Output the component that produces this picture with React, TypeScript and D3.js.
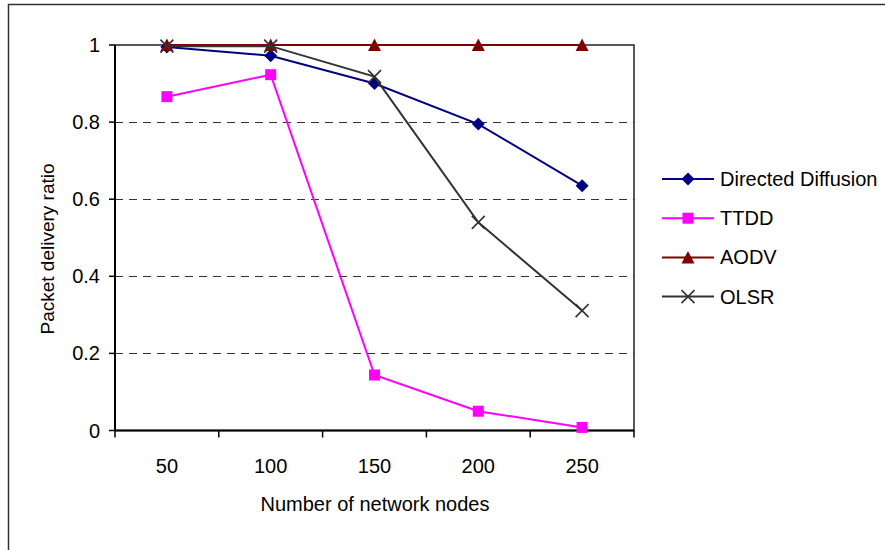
import React from "react";
import * as d3 from "d3";

const categories = ["50", "100", "150", "200", "250"];
const directedDiffusion = [0.995, 0.972, 0.9, 0.795, 0.635];
const ttdd = [0.866, 0.923, 0.144, 0.05, 0.008];
const aodv = [1, 1, 1, 1, 1];
const olsr = [0.997, 0.997, 0.918, 0.54, 0.311];
const yTicks = [0, 0.2, 0.4, 0.6, 0.8, 1];
const yTickLabels = ["0", "0.2", "0.4", "0.6", "0.8", "1"];
const seriesNames = ["Directed Diffusion", "TTDD", "AODV", "OLSR"];
const xTitle = "Number of network nodes";
const yTitle = "Packet delivery ratio";

const W = 885;
const H = 550;
const plot = { left: 115, right: 634, top: 45, bottom: 430.5 };
const FONT = "'Liberation Sans', Arial, sans-serif";

type Kind = "diamond" | "square" | "triangle" | "x";

const styles: { color: string; kind: Kind }[] = [
  { color: "#000080", kind: "diamond" },
  { color: "#FF00FF", kind: "square" },
  { color: "#800000", kind: "triangle" },
  { color: "#333333", kind: "x" },
];

function Marker({ kind, color, cx, cy }: { kind: Kind; color: string; cx: number; cy: number }) {
  if (kind === "diamond") {
    const r = 6.5;
    return <path d={`M${cx},${cy - r}L${cx + r},${cy}L${cx},${cy + r}L${cx - r},${cy}Z`} fill={color} />;
  }
  if (kind === "square") {
    const s = 11;
    return <rect x={cx - s / 2} y={cy - s / 2} width={s} height={s} fill={color} />;
  }
  if (kind === "triangle") {
    const w = 6.5;
    return <path d={`M${cx},${cy - 6.5}L${cx + w},${cy + 6}L${cx - w},${cy + 6}Z`} fill={color} />;
  }
  const r = 6.5;
  return (
    <path
      d={`M${cx - r},${cy - r}L${cx + r},${cy + r}M${cx - r},${cy + r}L${cx + r},${cy - r}`}
      stroke={color}
      strokeWidth={1.6}
      fill="none"
    />
  );
}

export default function App() {
  const x = d3.scaleBand<string>().domain(categories).range([plot.left, plot.right]).padding(0);
  const y = d3.scaleLinear().domain([0, 1]).range([plot.bottom, plot.top]);
  const cx = (c: string) => (x(c) as number) + x.bandwidth() / 2;
  const data = [directedDiffusion, ttdd, aodv, olsr];
  const line = d3
    .line<number>()
    .x((_, i) => cx(categories[i]))
    .y((d) => y(d));
  const boundaries = [...categories.map((c) => x(c) as number), plot.right];

  const legendX0 = 662;
  const legendX1 = 714;
  const legendY0 = 179;
  const legendStep = 39.2;

  return (
    <svg
      width={W}
      height={H}
      style={{ position: "absolute", left: 0, top: 0, background: "#fff" }}
      fontFamily={FONT}
    >
      <rect x={0} y={0} width={W} height={H} fill="#fff" />
      <rect x={8.5} y={4.5} width={W + 20} height={H + 20} fill="none" stroke="#333" strokeWidth={1.5} />

      {/* gridlines */}
      {yTicks
        .filter((t) => t > 0 && t < 1)
        .map((t) => (
          <line
            key={t}
            x1={plot.left}
            x2={plot.right}
            y1={Math.round(y(t)) + 0.5}
            y2={Math.round(y(t)) + 0.5}
            stroke="#333"
            strokeWidth={1}
            strokeDasharray="8,6"
          />
        ))}

      {/* plot border */}
      <rect
        x={plot.left}
        y={plot.top}
        width={plot.right - plot.left}
        height={plot.bottom - plot.top}
        fill="none"
        stroke="#222"
        strokeWidth={1.5}
      />
      <line x1={plot.left} x2={plot.left} y1={plot.top} y2={plot.bottom} stroke="#000" strokeWidth={2} />
      <line x1={plot.left} x2={plot.right} y1={plot.bottom} y2={plot.bottom} stroke="#000" strokeWidth={2} />

      {/* y ticks */}
      {yTicks.map((t, i) => (
        <g key={t}>
          <line x1={plot.left - 6} x2={plot.left} y1={y(t)} y2={y(t)} stroke="#000" strokeWidth={1.5} />
          <text x={100} y={y(t) + 7} textAnchor="end" fontSize={20} fill="#000">
            {yTickLabels[i]}
          </text>
        </g>
      ))}

      {/* x ticks */}
      {boundaries.map((b, i) => (
        <line key={i} x1={b} x2={b} y1={plot.bottom} y2={plot.bottom + 7} stroke="#000" strokeWidth={1.5} />
      ))}
      {categories.map((c) => (
        <text key={c} x={cx(c)} y={473} textAnchor="middle" fontSize={20} fill="#000">
          {c}
        </text>
      ))}

      <text x={375} y={511} textAnchor="middle" fontSize={20} fill="#000">
        {xTitle}
      </text>
      <text
        transform={`translate(54,249) rotate(-90)`}
        textAnchor="middle"
        fontSize={19}
        fill="#000"
      >
        {yTitle}
      </text>

      {/* series */}
      {data.map((vals, si) => (
        <g key={si}>
          <path d={line(vals) || ""} fill="none" stroke={styles[si].color} strokeWidth={2} />
          {vals.map((v, i) => (
            <Marker key={i} kind={styles[si].kind} color={styles[si].color} cx={cx(categories[i])} cy={y(v)} />
          ))}
        </g>
      ))}

      {/* legend */}
      {seriesNames.map((name, i) => {
        const ly = legendY0 + i * legendStep;
        return (
          <g key={name}>
            <line x1={legendX0} x2={legendX1} y1={ly} y2={ly} stroke={styles[i].color} strokeWidth={2} />
            <Marker kind={styles[i].kind} color={styles[i].color} cx={(legendX0 + legendX1) / 2} cy={ly} />
            <text x={720} y={ly + 7} fontSize={20} fill="#000">
              {name}
            </text>
          </g>
        );
      })}
    </svg>
  );
}
